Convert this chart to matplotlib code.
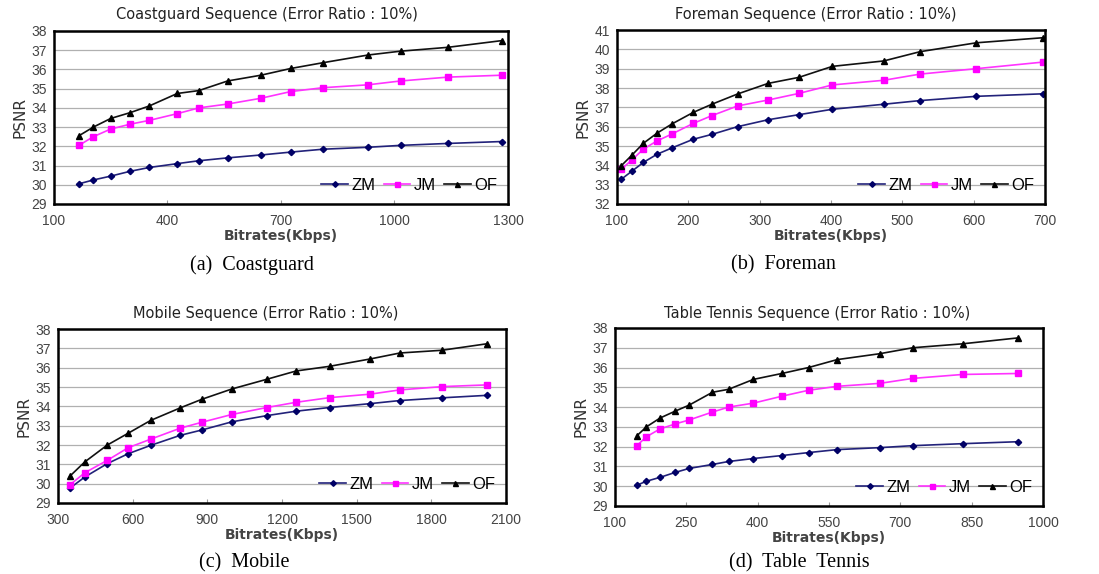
import matplotlib
matplotlib.use('Agg')
import matplotlib.pyplot as plt

# ---- data ----
coast_x = [166, 204, 250, 301, 352, 426, 483, 559, 647, 726, 811, 930, 1016, 1141, 1284]
coast_zm = [30.05, 30.25, 30.45, 30.7, 30.9, 31.1, 31.25, 31.4, 31.55, 31.7, 31.85, 31.95, 32.05, 32.15, 32.25]
coast_jm = [32.05, 32.5, 32.9, 33.15, 33.35, 33.7, 34.0, 34.2, 34.5, 34.85, 35.05, 35.2, 35.4, 35.6, 35.7]
coast_of = [32.55, 33.0, 33.45, 33.75, 34.1, 34.75, 34.9, 35.4, 35.7, 36.05, 36.35, 36.75, 36.95, 37.15, 37.5]

fore_x = [106, 121, 137, 156, 177, 207, 233, 269, 312, 355, 402, 474, 525, 604, 697]
fore_zm = [33.28, 33.7, 34.15, 34.57, 34.9, 35.35, 35.6, 36.0, 36.36, 36.62, 36.9, 37.16, 37.35, 37.57, 37.7]
fore_jm = [33.8, 34.28, 34.84, 35.26, 35.62, 36.17, 36.57, 37.07, 37.38, 37.72, 38.16, 38.4, 38.72, 39.0, 39.34]
fore_of = [33.98, 34.53, 35.14, 35.66, 36.14, 36.74, 37.16, 37.69, 38.24, 38.55, 39.12, 39.4, 39.88, 40.34, 40.6]

mob_x = [347, 407, 497, 582, 672, 791, 879, 999, 1139, 1257, 1391, 1554, 1674, 1842, 2025]
mob_zm = [29.76, 30.34, 31.03, 31.55, 31.98, 32.5, 32.78, 33.2, 33.52, 33.75, 33.94, 34.14, 34.3, 34.44, 34.57]
mob_jm = [29.93, 30.56, 31.2, 31.86, 32.3, 32.87, 33.18, 33.58, 33.94, 34.21, 34.45, 34.63, 34.85, 35.02, 35.11]
mob_of = [30.38, 31.12, 31.99, 32.61, 33.27, 33.92, 34.37, 34.9, 35.4, 35.83, 36.07, 36.45, 36.76, 36.9, 37.24]

tt_x = [146, 166, 195, 227, 256, 305, 339, 391, 451, 507, 567, 657, 726, 831, 948]
tt_zm = [30.05, 30.25, 30.45, 30.7, 30.9, 31.1, 31.25, 31.4, 31.55, 31.7, 31.85, 31.95, 32.05, 32.15, 32.25]
tt_jm = [32.05, 32.5, 32.9, 33.15, 33.35, 33.75, 34.0, 34.2, 34.55, 34.85, 35.05, 35.2, 35.45, 35.65, 35.7]
tt_of = [32.55, 33.0, 33.45, 33.8, 34.1, 34.75, 34.9, 35.4, 35.7, 36.0, 36.4, 36.7, 37.0, 37.2, 37.5]

panels = [
    dict(title='Coastguard Sequence (Error Ratio : 10%)', caption='(a)  Coastguard',
         x=coast_x, zm=coast_zm, jm=coast_jm, of=coast_of,
         xticks=[100, 400, 700, 1000, 1300], yticks=range(29, 39),
         rect=[0.0491, 0.6446, 0.4131, 0.3014], cap_xy=(252, 265), title_xy=(267, 15)),
    dict(title='Foreman Sequence (Error Ratio : 10%)', caption='(b)  Foreman',
         x=fore_x, zm=fore_zm, jm=fore_jm, of=fore_of,
         xticks=[100, 200, 300, 400, 500, 600, 700], yticks=range(32, 42),
         rect=[0.5614, 0.6446, 0.3894, 0.3031], cap_xy=(783, 265), title_xy=(816, 15)),
    dict(title='Mobile Sequence (Error Ratio : 10%)', caption='(c)  Mobile',
         x=mob_x, zm=mob_zm, jm=mob_jm, of=mob_of,
         xticks=[300, 600, 900, 1200, 1500, 1800, 2100], yticks=range(29, 39),
         rect=[0.0528, 0.1237, 0.4076, 0.3031], cap_xy=(244, 563), title_xy=(266, 314)),
    dict(title='Table Tennis Sequence (Error Ratio : 10%)', caption='(d)  Table  Tennis',
         x=tt_x, zm=tt_zm, jm=tt_jm, of=tt_of,
         xticks=[100, 250, 400, 550, 700, 850, 1000], yticks=range(29, 39),
         rect=[0.5596, 0.1185, 0.3894, 0.3101], cap_xy=(799, 563), title_xy=(817, 314)),
]

W, H = 1099, 574
fig = plt.figure(figsize=(W / 100, H / 100), dpi=100)
fig.patch.set_facecolor('white')

tick_font = 'Liberation Sans'

for p in panels:
    ax = fig.add_axes(p['rect'])
    ax.plot(p['x'], p['zm'], color='#22227a', marker='D', markersize=3.2,
            markerfacecolor='#000066', markeredgecolor='#000066', lw=1.2, label='ZM')
    ax.plot(p['x'], p['jm'], color='#ff33ff', marker='s', markersize=4,
            markerfacecolor='#ff00ff', markeredgecolor='#ff00ff', lw=1.2, label='JM')
    ax.plot(p['x'], p['of'], color='#111111', marker='^', markersize=4,
            markerfacecolor='black', markeredgecolor='black', lw=1.2, label='OF')

    xt = p['xticks']
    yt = list(p['yticks'])
    ax.set_xlim(xt[0], xt[-1])
    ax.set_ylim(yt[0], yt[-1])
    ax.set_xticks(xt)
    ax.set_yticks(yt)
    ax.grid(axis='y', color='#b0b0b0', lw=0.9)
    ax.set_axisbelow(True)
    for s in ax.spines.values():
        s.set_linewidth(1.8)
        s.set_color('black')
    ax.tick_params(axis='x', direction='in', length=3, color='#999999', pad=7)
    ax.tick_params(axis='y', length=0, pad=5)
    for lab in ax.get_xticklabels() + ax.get_yticklabels():
        lab.set_family(tick_font)
        lab.set_fontsize(10)
        lab.set_color('#444444')

    ax.set_xlabel('Bitrates(Kbps)', fontsize=10, fontweight='bold', color='#444444', labelpad=1)
    ax.set_ylabel('PSNR', fontsize=11, color='#333333', labelpad=3)

    ax.legend(loc='lower right', ncol=3, frameon=False,
              handlelength=1.6, handletextpad=0.2, columnspacing=0.5,
              borderaxespad=0.25, markerscale=0.9,
              prop={'family': tick_font, 'size': 12})

    tx, ty = p['title_xy']
    fig.text(tx / W, 1 - ty / H, p['title'], ha='center', va='center',
             fontsize=10.5, color='#222222')
    cx, cy = p['cap_xy']
    fig.text(cx / W, 1 - cy / H, p['caption'], ha='center', va='center',
             fontsize=14.5, family='Liberation Serif', color='black')

fig.savefig('out.png', dpi=100)
